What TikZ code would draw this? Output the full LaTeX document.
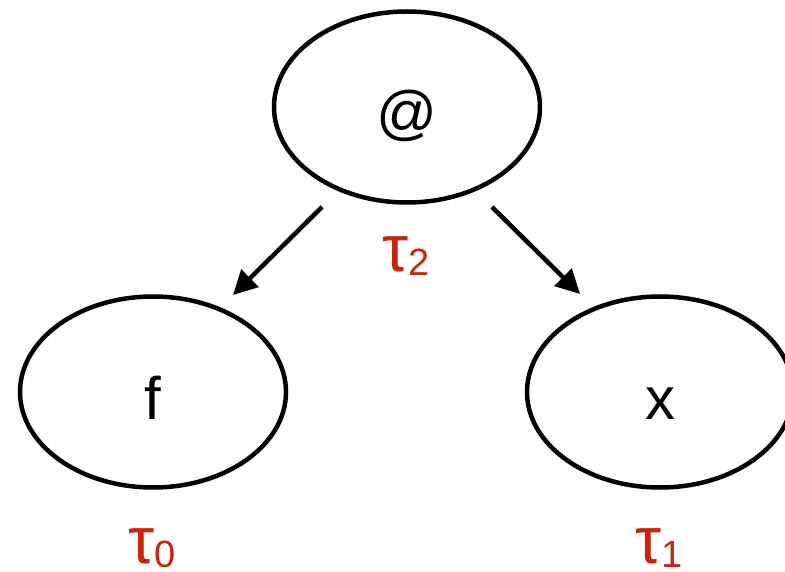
\documentclass[tikz,border=0pt]{standalone}
\usepackage{fontspec}
\setmainfont{Liberation Sans}
\usetikzlibrary{arrows.meta,shapes.geometric}
\definecolor{typered}{RGB}{200,38,12}
\tikzset{
  term/.style={ellipse, draw=black, line width=4.5pt, minimum width=266pt,
    minimum height=191pt, inner sep=0pt, text height=54pt, text depth=0pt,
    font=\fontsize{60}{60}\selectfont},
  edge/.style={line width=4.5pt, -{Triangle[length=24pt,width=24pt]}},
  typelabel/.style={anchor=base, inner sep=0pt, text=typered,
    font=\fontsize{66}{66}\selectfont}
}
\newcommand{\tysub}[1]{\raisebox{-4pt}{\fontsize{38}{38}\selectfont #1}}
\begin{document}
\begin{tikzpicture}[x=1pt, y=-1pt]
  \useasboundingbox (0,0) rectangle (785,572);
  % application node and its two children
  \node[term] (app) at (407,107) {@};
  \node[term] (fun) at (153,392) {f};
  \node[term] (arg) at (660,392) {x};
  % edges from the application to function and argument
  \draw[edge] ([shift={(-85,100)}]app.center) -- ([shift={(80,-97)}]fun.center);
  \draw[edge] ([shift={(85,100)}]app.center) -- ([shift={(-80,-98)}]arg.center);
  % type variables
  \node[typelabel] (t2) at (406,272) {τ\tysub{2}};
  \node[typelabel] (t0) at (152,563) {τ\tysub{0}};
  \node[typelabel] (t1) at (659,563) {τ\tysub{1}};
\end{tikzpicture}
\end{document}
